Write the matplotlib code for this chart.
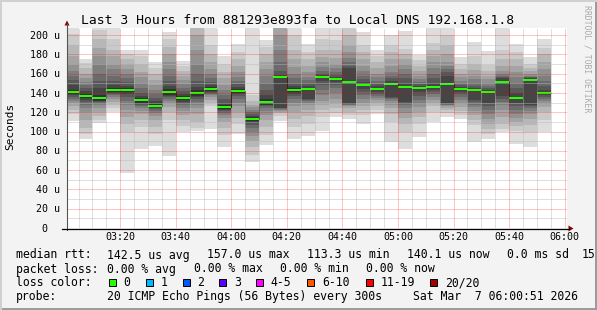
import matplotlib
matplotlib.use('Agg')
import matplotlib.pyplot as plt
from matplotlib.lines import Line2D
from matplotlib.patches import Rectangle, Polygon
import numpy as np

W, H = 597, 310
BG = '#f3f3f3'
MONO = 'DejaVu Sans Mono'

# median rtt per 5 minute step (us), 03:00 .. 05:55
medians = [141, 137, 135, 143, 143, 132.6, 126.4, 141, 134.7, 140, 144, 125.4,
           142, 113.3, 130.5, 157.0, 143, 144, 156.5, 154.4, 151.3, 148.2, 144,
           149.2, 146.1, 145.1, 146.1, 149.2, 144, 143, 140.9, 151.3, 134.7,
           153.4, 140.1]

# sorted pings per step: ping20 .. ping11 (upper smoke edges)
smoke_top = [
    [212, 201, 190, 178, 170, 163, 158, 153, 148, 143],
    [175, 171, 166, 160, 155, 151, 148, 145, 142, 139],
    [212, 205, 196, 187, 178, 170, 160, 152, 145, 138],
    [210, 196, 185, 178, 170, 165, 158, 152, 148, 145],
    [184, 180, 175, 170, 165, 160, 155, 151, 147, 145],
    [184, 178, 170, 162, 156, 150, 145, 140, 137, 135],
    [172, 166, 160, 153, 148, 143, 139, 135, 132, 129],
    [203, 196, 188, 180, 172, 165, 158, 152, 147, 144],
    [173, 168, 163, 158, 153, 149, 145, 142, 139, 137],
    [230, 220, 212, 200, 185, 170, 160, 152, 146, 143],
    [212, 190, 180, 172, 165, 160, 155, 151, 148, 146],
    [178, 170, 162, 155, 148, 143, 138, 134, 130, 128],
    [191, 182, 175, 168, 162, 157, 152, 149, 146, 144],
    [212, 138, 132, 128, 125, 122, 120, 118, 116, 115],
    [195, 188, 180, 172, 165, 158, 150, 143, 138, 134],
    [250, 235, 222, 212, 200, 185, 172, 163, 159, 157.5],
    [212, 200, 185, 175, 167, 160, 155, 150, 147, 145],
    [191, 182, 175, 168, 162, 157, 153, 150, 147, 145.5],
    [212, 196, 185, 177, 172, 167, 163, 160, 158.5, 157.5],
    [212, 195, 185, 176, 170, 166, 162, 159, 157, 155.5],
    [240, 215, 200, 190, 182, 176, 172, 168, 166, 152],
    [203, 190, 182, 175, 168, 163, 158, 154, 151, 149],
    [185, 178, 172, 166, 160, 156, 152, 149, 147, 145],
    [200, 190, 182, 175, 168, 162, 158, 155, 152, 150],
    [204, 186, 180, 175, 170, 165, 160, 155, 150, 147],
    [179, 174, 168, 163, 158, 154, 151, 149, 147, 146],
    [210, 192, 185, 178, 172, 166, 160, 155, 150, 147],
    [220, 200, 190, 180, 172, 168, 165, 162, 158, 150],
    [177, 170, 165, 160, 156, 152, 150, 148, 146.5, 145],
    [193, 178, 170, 164, 158, 154, 150, 147, 145, 144],
    [183, 169, 163, 158, 154, 150, 147, 145, 143, 141.5],
    [215, 185, 175, 168, 163, 160, 158, 156, 155, 152],
    [191, 182, 175, 168, 162, 156, 150, 145, 140, 136],
    [177, 170, 166, 163, 160, 158, 157, 156, 155, 154.2],
    [196, 187, 180, 172, 165, 158, 152, 147, 143, 141],
]

# sorted pings per step: ping1 .. ping10 (lower smoke edges)
smoke_bot = [
    [111, 118, 122, 126, 130, 132, 134, 136, 138, 139],
    [92, 97, 104, 112, 120, 124, 128, 131, 133, 135],
    [109, 112, 116, 120, 124, 127, 129, 131, 132, 132],
    [120, 124, 128, 131, 134, 136, 138, 139, 140, 141],
    [57, 100, 108, 115, 122, 127, 132, 136, 139, 141],
    [82, 105, 112, 118, 121, 124, 126, 128, 129, 130],
    [85, 97, 105, 112, 116, 119, 121, 123, 124, 125],
    [75, 112, 120, 125, 129, 132, 134, 136, 137, 138],
    [99, 106, 112, 117, 121, 124, 127, 129, 131, 133],
    [101, 104, 110, 118, 124, 128, 131, 134, 136, 137],
    [103, 126, 130, 133, 136, 138, 139, 140, 141, 142],
    [84, 96, 104, 110, 114, 117, 119, 121, 122, 123],
    [97, 108, 114, 120, 126, 130, 134, 137, 139, 140],
    [68, 76, 84, 90, 95, 100, 104, 107, 109, 111],
    [86, 96, 105, 112, 117, 121, 124, 126, 127, 127],
    [111, 116, 119, 120, 121, 122, 123, 124, 124.5, 156],
    [92, 105, 113, 120, 126, 130, 134, 137, 139, 141],
    [95, 108, 116, 122, 127, 130, 132, 133, 134, 143],
    [101, 115, 122, 127, 132, 138, 143, 148, 152, 156],
    [115, 119, 124, 129, 134, 140, 145, 148, 151, 153.5],
    [113, 117, 120, 124, 126, 127, 128, 128.5, 129, 150.5],
    [108, 117, 122, 126, 130, 134, 138, 141, 144, 147.5],
    [118, 122, 126, 130, 133, 135, 137, 139, 141, 143],
    [89, 110, 118, 124, 128, 132, 134, 135, 136, 148],
    [82, 100, 108, 114, 119, 124, 127, 129, 131, 146],
    [94, 108, 115, 120, 125, 129, 133, 137, 141, 144.5],
    [110, 120, 126, 130, 133, 136, 139, 141, 143, 146],
    [115, 119, 122, 124, 126, 127, 128, 129, 130, 148.5],
    [113, 117, 121, 125, 129, 133, 136, 139, 141, 143.8],
    [89, 107, 112, 117, 121, 125, 128, 131, 133, 142],
    [92, 97, 103, 108, 113, 118, 122, 126, 130, 140.3],
    [99, 103, 108, 115, 122, 127, 131, 134, 137, 150.6],
    [87, 101, 106, 110, 114, 118, 122, 126, 130, 133.4],
    [84, 99, 107, 113, 118, 121, 124, 126, 128, 153.2],
    [99, 112, 120, 125, 129, 132, 134, 136, 138, 139.3],
]

ytick_vals = [0, 20, 40, 60, 80, 100, 120, 140, 160, 180, 200]
xtick_min = [20, 40, 60, 80, 100, 120, 140, 160, 180]
xtick_labels = ['03:20', '03:40', '04:00', '04:20', '04:40', '05:00', '05:20', '05:40', '06:00']

loss_names = ['0', '1', '2', '3', '4-5', '6-10', '11-19', '20/20']
loss_colors = ['#26ff00', '#00b8ff', '#0059ff', '#5e00ff', '#ff00ff', '#ff5500', '#ff0000', '#a00000']

title = 'Last 3 Hours from 881293e893fa to Local DNS 192.168.1.8'
rtt_items = ['142.5 us avg', '157.0 us max', '113.3 us min', '140.1 us now', '0.0 ms sd', '15']
loss_items = ['0.00 % avg', '0.00 % max', '0.00 % min', '0.00 % now']
probe_text = '20 ICMP Echo Pings (56 Bytes) every 300s'
stamp = 'Sat Mar  7 06:00:51 2026'

STEP = 5  # minutes
X0, X1 = 0.85, 180.85  # 03:00:51 .. 06:00:51 in minutes after 03:00
YMAX = 207.3


def fx(x):
    return x / W


def fy(y):
    return 1 - y / H


def pline(x0, y0, x1, y1, **kw):
    fig.add_artist(Line2D([fx(x0), fx(x1)], [fy(y0), fy(y1)],
                          transform=fig.transFigure, **kw))


plt.rcParams['lines.scale_dashes'] = False

fig = plt.figure(figsize=(W / 100, H / 100), dpi=100, facecolor=BG)
ax = fig.add_axes([fx(67), fy(228), 500 / W, 200 / H])
ax.set_facecolor('white')
for s in ax.spines.values():
    s.set_visible(False)
ax.set_xticks([])
ax.set_yticks([])
ax.set_xlim(X0, X1)
ax.set_ylim(0, YMAX)

n = len(medians)
edges = np.arange(n + 1) * STEP
centers = edges[:-1] + STEP / 2

# smoke, outer (light) to inner (dark)
grays = [221, 202, 183, 164, 145, 126, 107, 88, 69, 50]
for i, g in enumerate(grays):
    lo = np.array([b[i] for b in smoke_bot])
    hi = np.array([t[i] for t in smoke_top])
    ax.bar(centers, hi - lo, bottom=lo, width=STEP, color='#%02x%02x%02x' % (g, g, g),
           linewidth=0, antialiased=False, zorder=2)

# median line + loss coloured marker
ax.stairs(medians, edges, baseline=None, color='#202020', lw=0.72, zorder=3)
sw = YMAX / 200
ax.bar(centers, 2 * sw, bottom=np.array(medians) - sw, width=STEP,
       color=loss_colors[0], linewidth=0, antialiased=False, zorder=4)

# dotted grid on top: 1px dot, 1px gap (0.72 pt each at 100 dpi)
DOT = (0, (0.72, 0.72))
minor_kw = dict(color='#b8b8b8', alpha=0.9, lw=0.72, linestyle=DOT,
                dash_capstyle='butt', zorder=5)
major_kw = dict(color='#ff0000', alpha=0.45, lw=0.72, linestyle=DOT,
                dash_capstyle='butt', zorder=6)
for m in range(5, 181, 5):
    ax.axvline(m, **(major_kw if m % 20 == 0 else minor_kw))
for v in range(10, 201, 10):
    ax.axhline(v, **(major_kw if v % 20 == 0 else minor_kw))

# axes with arrows
pline(67, 230, 67, 24, color='#555555', lw=0.8)
pline(62, 228.5, 569, 228.5, color='black', lw=0.9)
fig.add_artist(Polygon([(fx(64.5), fy(25.5)), (fx(69.5), fy(25.5)), (fx(67), fy(20.5))],
                       closed=True, transform=fig.transFigure, color='#8b0000', lw=0))
fig.add_artist(Polygon([(fx(568.5), fy(225.5)), (fx(568.5), fy(231.5)), (fx(573.5), fy(228.5))],
                       closed=True, transform=fig.transFigure, color='#8b0000', lw=0))

# tick labels
for v in ytick_vals:
    ypx = 228 - v * 200 / YMAX
    lab = '%3d u' % v if v else '  0'
    fig.text(fx(30), fy(ypx + 3.6), lab, family=MONO, size=7.2, ha='left', va='baseline')
for m, lab in zip(xtick_min, xtick_labels):
    xpx = 67 + (m - X0) * 500 / (X1 - X0)
    fig.text(fx(xpx), fy(240.3), lab, family=MONO, size=7.2, ha='center', va='baseline')

fig.text(fx(298), fy(24), title, family=MONO, size=9.36, ha='center', va='baseline')
fig.text(fx(10.5), fy(126.5), 'Seconds', family=MONO, size=8.0, rotation=90,
         ha='center', va='center')
fig.text(fx(586.7), fy(4.7), 'RRDTOOL / TOBI OETIKER', family=MONO, size=5.9,
         rotation=270, ha='center', va='top', color='#aaaaaa')

# legend block
LS = 8.3
rtt_x = [107.3, 207.3, 307.3, 407.3, 507.3, 581.5]
fig.text(fx(16), fy(258.5), 'median rtt:', family=MONO, size=LS, va='baseline')
for x, t in zip(rtt_x, rtt_items):
    fig.text(fx(x), fy(258.5), t, family=MONO, size=LS, va='baseline')
fig.text(fx(16), fy(272.5), 'packet loss:', family=MONO, size=LS, va='baseline')
for i, t in enumerate(loss_items):
    fig.text(fx(107.3 + 86.3 * i), fy(272.5), t, family=MONO, size=LS, va='baseline')
fig.text(fx(16), fy(286.5), 'loss color:', family=MONO, size=LS, va='baseline')
sq_x = [108.7, 145.7, 182.7, 219.3, 256, 307.4, 366, 430.4]
for x, name, col in zip(sq_x, loss_names, loss_colors):
    fig.add_artist(Rectangle((fx(x), fy(286)), 7 / W, 7 / H, transform=fig.transFigure,
                             facecolor=col, edgecolor='black', lw=0.7))
    fig.text(fx(x + 14.6), fy(286.5), name, family=MONO, size=LS, va='baseline')
fig.text(fx(16), fy(300.3), 'probe:', family=MONO, size=LS, va='baseline')
fig.text(fx(107.3), fy(300.3), probe_text, family=MONO, size=LS, va='baseline')
fig.text(fx(413.3), fy(300.3), stamp, family=MONO, size=LS, va='baseline')

# frame
fig.add_artist(Rectangle((0, 0), 1, 2 / H, transform=fig.transFigure, color='#9c9c9c', lw=0))
fig.add_artist(Rectangle((1 - 2 / W, 0), 2 / W, 1, transform=fig.transFigure, color='#9c9c9c', lw=0))
fig.add_artist(Rectangle((0, 1 - 2 / H), 1, 2 / H, transform=fig.transFigure, color='#d0d0d0', lw=0))
fig.add_artist(Rectangle((0, 0), 2 / W, 1, transform=fig.transFigure, color='#d0d0d0', lw=0))

fig.savefig('out.png', dpi=100, facecolor=BG)
